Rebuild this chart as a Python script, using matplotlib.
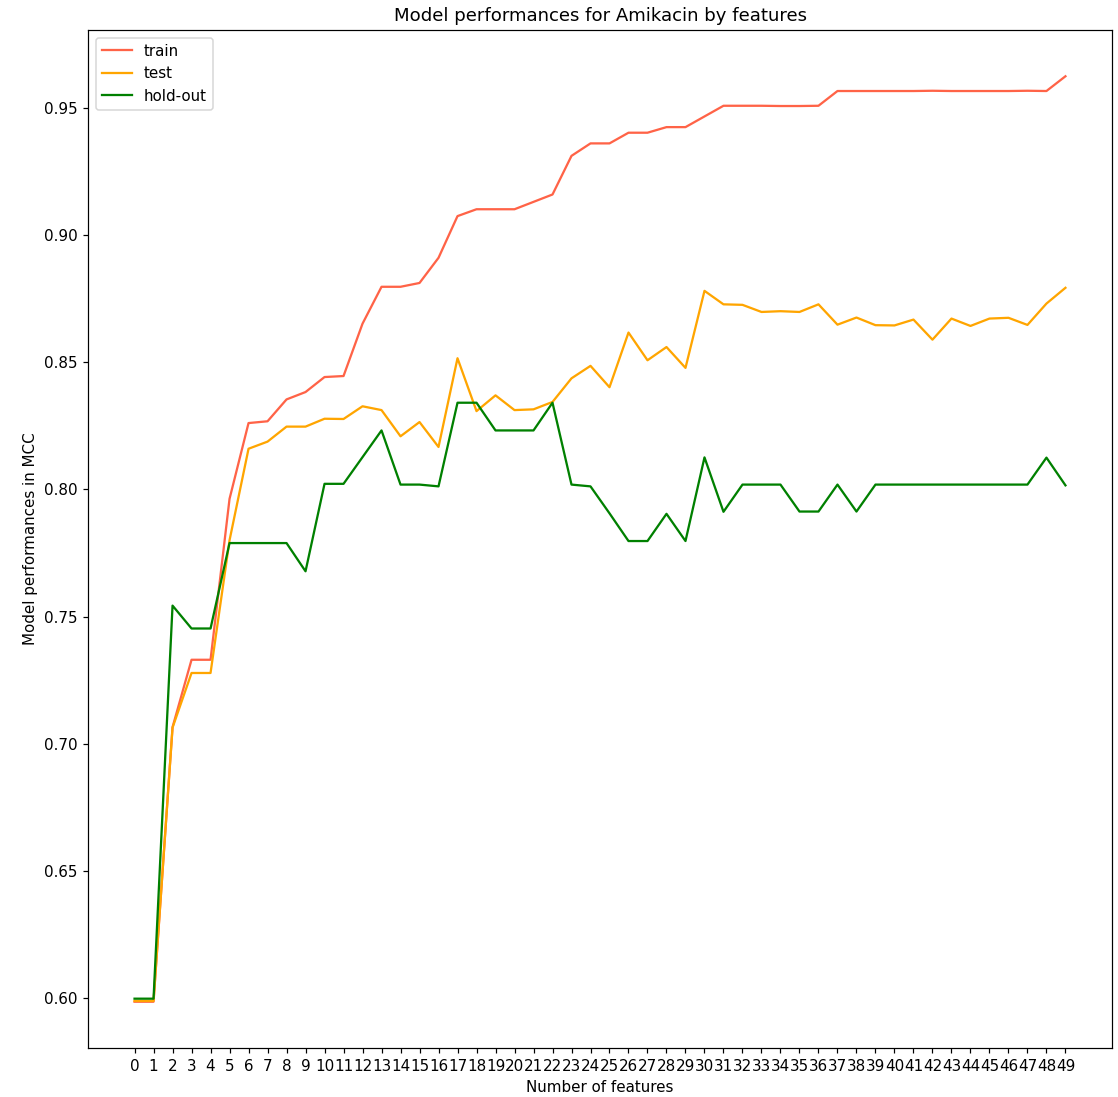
import numpy as np
import matplotlib
matplotlib.use("Agg")
import matplotlib.pyplot as plt

# MCC scores per number of selected features
n_features = list(range(50))

train = [0.5985, 0.5985, 0.7065, 0.7330, 0.7330, 0.7963, 0.8261, 0.8268, 0.8354, 0.8383,
         0.8442, 0.8446, 0.8652, 0.8797, 0.8797, 0.8812, 0.8911, 0.9075, 0.9102, 0.9102,
         0.9102, 0.9131, 0.9160, 0.9312, 0.9361, 0.9361, 0.9403, 0.9403, 0.9425, 0.9425,
         0.9467, 0.9509, 0.9509, 0.9509, 0.9508, 0.9508, 0.9509, 0.9567, 0.9567, 0.9567,
         0.9567, 0.9567, 0.9568, 0.9567, 0.9567, 0.9567, 0.9567, 0.9568, 0.9567, 0.9625]

test = [0.5988, 0.5988, 0.7063, 0.7278, 0.7278, 0.7800, 0.8160, 0.8188, 0.8247, 0.8247,
        0.8278, 0.8277, 0.8327, 0.8312, 0.8209, 0.8265, 0.8167, 0.8516, 0.8308, 0.8370,
        0.8312, 0.8315, 0.8344, 0.8437, 0.8486, 0.8402, 0.8617, 0.8508, 0.8560, 0.8478,
        0.8781, 0.8728, 0.8726, 0.8698, 0.8701, 0.8698, 0.8728, 0.8648, 0.8676, 0.8646,
        0.8645, 0.8668, 0.8589, 0.8672, 0.8643, 0.8672, 0.8675, 0.8647, 0.8731, 0.8793]

holdout = [0.5997, 0.5997, 0.7543, 0.7453, 0.7453, 0.7789, 0.7789, 0.7789, 0.7789, 0.7678,
           0.8022, 0.8022, 0.8127, 0.8232, 0.8019, 0.8019, 0.8012, 0.8341, 0.8341, 0.8232,
           0.8232, 0.8232, 0.8341, 0.8019, 0.8012, 0.7906, 0.7797, 0.7797, 0.7904, 0.7797,
           0.8126, 0.7912, 0.8019, 0.8019, 0.8019, 0.7913, 0.7913, 0.8019, 0.7913, 0.8019,
           0.8019, 0.8019, 0.8019, 0.8019, 0.8019, 0.8019, 0.8019, 0.8019, 0.8125, 0.8016]

dpi = 109
fig = plt.figure(figsize=(1118 / dpi, 1097 / dpi), dpi=dpi)
ax = fig.add_axes([88 / 1118, 49 / 1097, 1024 / 1118, 1018 / 1097])

ax.plot(n_features, train, color="tomato", label="train")
ax.plot(n_features, test, color="orange", label="test")
ax.plot(n_features, holdout, color="green", label="hold-out")

ax.set_xticks(n_features)
ax.set_title("Model performances for Amikacin by features")
ax.set_xlabel("Number of features")
ax.set_ylabel("Model performances in MCC")
ax.legend(loc="upper left")

fig.savefig("out.png", dpi=dpi)
